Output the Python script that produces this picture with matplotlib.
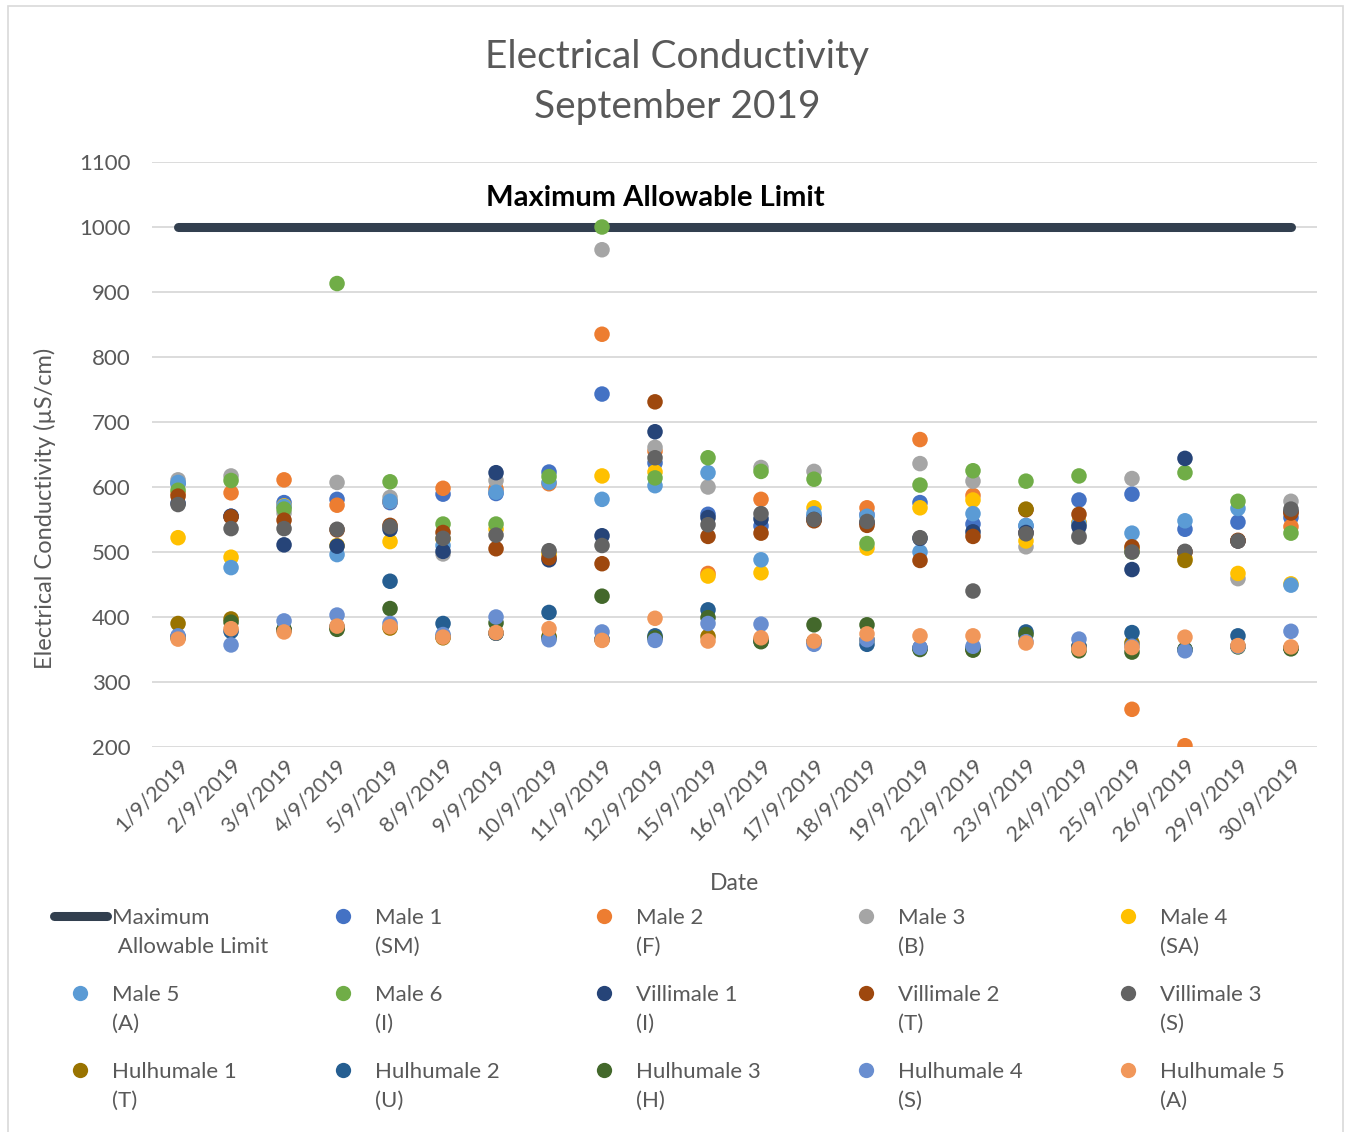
import numpy as np
import matplotlib.pyplot as plt
from matplotlib.lines import Line2D
from matplotlib.patches import Rectangle

plt.rcParams['font.family'] = ['Lato', 'DejaVu Sans']

dates = ['1/9/2019', '2/9/2019', '3/9/2019', '4/9/2019', '5/9/2019', '8/9/2019',
         '9/9/2019', '10/9/2019', '11/9/2019', '12/9/2019', '15/9/2019', '16/9/2019',
         '17/9/2019', '18/9/2019', '19/9/2019', '22/9/2019', '23/9/2019', '24/9/2019',
         '25/9/2019', '26/9/2019', '29/9/2019', '30/9/2019']

limit = [1000] * len(dates)

male1 = [605, 555, 576, 581, 576, 589, 590, 623, 743, 637, 558, 540, 555, 558, 576, 543, 540, 580, 589, 535, 546, 553]
male2 = [590, 591, 611, 572, 578, 598, 597, 605, 835, 655, 467, 581, 550, 568, 673, 587, 530, 545, 258, 202, 517, 539]
male3 = [611, 617, 560, 607, 584, 497, 610, 500, 965, 661, 600, 630, 624, 545, 636, 609, 508, 525, 613, 500, 459, 578]
male4 = [522, 492, 571, 510, 516, 520, 535, 497, 617, 623, 463, 468, 568, 506, 568, 580, 517, 545, 505, 490, 467, 451]
male5 = [607, 476, 570, 496, 578, 510, 592, 607, 581, 602, 622, 488, 559, 555, 500, 559, 541, 543, 529, 548, 567, 449]
male6 = [595, 610, 566, 913, 608, 543, 543, 616, 1000, 614, 645, 624, 612, 513, 603, 625, 609, 617, 500, 622, 578, 529]
villi1 = [575, 555, 511, 509, 535, 501, 622, 488, 525, 685, 553, 551, 550, 545, 521, 531, 530, 539, 473, 644, 517, 562]
villi2 = [586, 554, 549, 534, 541, 530, 505, 491, 482, 731, 524, 529, 548, 541, 487, 524, 565, 558, 508, 500, 518, 560]
villi3 = [573, 536, 536, 535, 539, 521, 526, 502, 510, 645, 542, 559, 550, 547, 522, 440, 528, 523, 500, 501, 517, 566]
hulhu1 = [390, 397, 380, 383, 383, 368, 375, 370, 365, 368, 370, 365, 362, 365, 352, 350, 566, 355, 360, 487, 355, 352]
hulhu2 = [370, 378, 380, 385, 455, 390, 375, 407, 366, 371, 411, 363, 362, 358, 352, 352, 377, 355, 376, 350, 371, 352]
hulhu3 = [368, 392, 381, 381, 413, 370, 391, 368, 432, 368, 399, 362, 388, 388, 350, 349, 373, 348, 346, 350, 354, 351]
hulhu4 = [371, 357, 394, 403, 390, 373, 400, 365, 377, 364, 390, 389, 358, 365, 353, 355, 362, 366, 355, 348, 355, 378]
hulhu5 = [366, 382, 377, 386, 385, 369, 376, 382, 364, 398, 363, 368, 363, 374, 371, 371, 360, 351, 353, 369, 356, 354]

series = [
    ('Male 1\n(SM)', male1, '#4472C4'),
    ('Male 2\n(F)', male2, '#ED7D31'),
    ('Male 3\n(B)', male3, '#A5A5A5'),
    ('Male 4\n(SA)', male4, '#FFC000'),
    ('Male 5\n(A)', male5, '#5B9BD5'),
    ('Male 6\n(I)', male6, '#70AD47'),
    ('Villimale 1\n(I)', villi1, '#264478'),
    ('Villimale 2\n(T)', villi2, '#9E480E'),
    ('Villimale 3\n(S)', villi3, '#636363'),
    ('Hulhumale 1\n(T)', hulhu1, '#997300'),
    ('Hulhumale 2\n(U)', hulhu2, '#255E91'),
    ('Hulhumale 3\n(H)', hulhu3, '#43682B'),
    ('Hulhumale 4\n(S)', hulhu4, '#698ED0'),
    ('Hulhumale 5\n(A)', hulhu5, '#F1975A'),
]

text_col = '#595959'
line_col = '#323F4F'
W, H = 1346.0, 1132.0

fig = plt.figure(figsize=(13.46, 11.32), dpi=100)
ax = fig.add_axes([0.1126, 0.3401, 0.8662, 0.5168])

x = np.arange(len(dates))
ax.plot(x, limit, color=line_col, lw=6.5, solid_capstyle='round', zorder=2)
for name, vals, col in series:
    ax.scatter(x, vals, s=125, color=col, edgecolors='none', zorder=3)

ax.text(9, 1045, 'Maximum Allowable Limit', ha='center', va='center',
        fontsize=21, fontweight='bold', color='black')

ax.set_xlim(-0.5, len(dates) - 0.5)
ax.set_ylim(200, 1100)
ax.set_yticks(range(200, 1101, 100))
ax.set_xticks(x)
ax.set_xticklabels(dates, rotation=45, ha='right', rotation_mode='anchor')
ax.tick_params(axis='both', length=0, labelsize=15.5, colors=text_col)
ax.tick_params(axis='y', labelsize=16, pad=15)
ax.tick_params(axis='x', pad=6)
ax.grid(axis='y', color='#D9D9D9', lw=1.3, zorder=0)
ax.set_axisbelow(True)
for s in ax.spines.values():
    s.set_visible(False)

fig.text(45 / W, 1 - 508 / H, 'Electrical Conductivity (µS/cm)', rotation=90,
         ha='center', va='center', fontsize=17, color=text_col)
fig.text(735 / W, 1 - 884 / H, 'Date', ha='center', va='center', fontsize=16.5, color=text_col)

fig.text(677 / W, 1 - 57 / H, 'Electrical Conductivity', ha='center', va='center',
         fontsize=28, color=text_col)
fig.text(677 / W, 1 - 107 / H, 'September 2019', ha='center', va='center',
         fontsize=28, color=text_col)

# legend, laid out row by row like the original
entries = [('Maximum\n Allowable Limit', None, line_col)] + series
col_x = [80, 343, 604, 866, 1128]
row_y = [916, 993, 1070]
for i, (name, vals, col) in enumerate(entries):
    cx = col_x[i % 5]
    cy = row_y[i // 5]
    if vals is None:
        fig.add_artist(Line2D([54 / W, 107 / W], [1 - cy / H, 1 - cy / H],
                              color=col, lw=6.5, solid_capstyle='round'))
    else:
        fig.add_artist(Line2D([cx / W], [1 - cy / H], marker='o', ms=11,
                              color=col, markeredgecolor='none', lw=0))
    fig.text((cx + 32) / W, 1 - (cy - 8) / H, name, ha='left', va='top',
             fontsize=16, color=text_col, linespacing=1.55)

fig.add_artist(Rectangle((8 / W, -0.01), (1343 - 8) / W, 1.01 - 6 / H,
                         fill=False, edgecolor='#D9D9D9', lw=1.2))

plt.savefig('out.png', dpi=100)
